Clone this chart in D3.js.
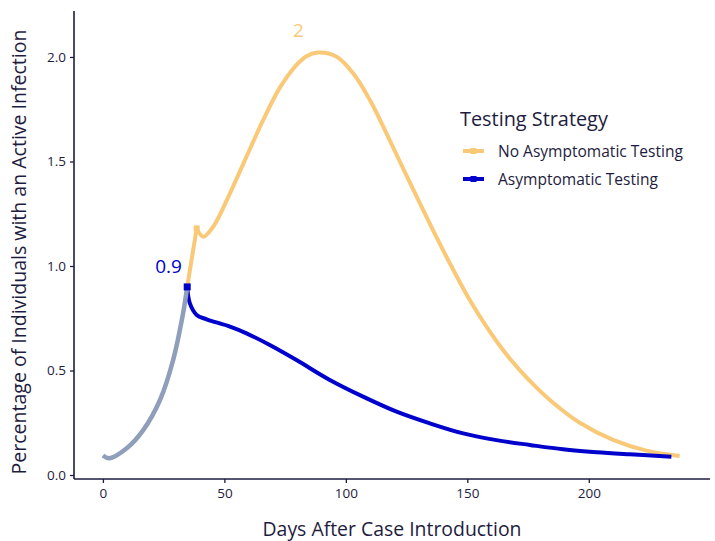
<!DOCTYPE html>
<html><head><meta charset="utf-8">
<script src="https://cdn.jsdelivr.net/npm/d3@7"></script>
<style>
html,body{margin:0;padding:0;background:#fff;}
svg{display:block;font-family:"Open Sans", Lato, sans-serif;}
</style></head>
<body><svg id="c" width="715" height="541"></svg>
<script>
// ---- data (days, percentage) ----
const grayDays = [0, 2.6, 9.8, 16.6, 23.5, 28.9, 33.0, 34.7];
const grayVals = [0.093, 0.080, 0.128, 0.215, 0.359, 0.550, 0.774, 0.900];

const noTestDays = [34.7, 38.6, 41.3, 45.4, 52.3, 59.1, 66.0, 72.8, 79.7, 83.8, 88.6, 96.2, 103.0, 109.9, 116.7, 123.6, 130.5, 137.3, 144.2, 151.0, 157.9, 164.7, 171.6, 178.5, 185.3, 196.3, 210.0, 223.7, 237.4];
const noTestVals = [0.900, 1.180, 1.140, 1.188, 1.348, 1.523, 1.699, 1.852, 1.962, 2.004, 2.021, 2.001, 1.922, 1.794, 1.635, 1.466, 1.300, 1.138, 0.982, 0.837, 0.710, 0.598, 0.502, 0.418, 0.346, 0.250, 0.168, 0.117, 0.091];

const testDays = [34.7, 35.8, 38.6, 42.7, 52.3, 59.1, 68.7, 79.7, 93.4, 107.1, 120.9, 134.6, 148.3, 162.0, 175.7, 189.4, 203.2, 216.9, 234.0];
const testVals = [0.900, 0.821, 0.766, 0.745, 0.710, 0.678, 0.622, 0.550, 0.455, 0.375, 0.303, 0.247, 0.199, 0.167, 0.144, 0.123, 0.109, 0.099, 0.088];

const xTicks = [0, 50, 100, 150, 200];
const yTicks = [0.0, 0.5, 1.0, 1.5, 2.0];
const seriesNames = ["No Asymptomatic Testing", "Asymptomatic Testing"];
const seriesColors = ["#f9c978", "#0000cc"];
const grayColor = "#8e9ebb";
const labelPeak = {day: 80.5, val: 2.12, text: "2"};
const labelTest = {day: 27, val: 0.99, text: "0.9"};

// ---- layout ----
const svg = d3.select("#c");
const ink = "#1e1c40";
const x = d3.scaleLinear().domain([-11.9, 249.9]).range([74, 710]);
const y = d3.scaleLinear().domain([-0.019, 2.22]).range([479, 11]);

const zip = (a, b) => a.map((d, i) => [d, b[i]]);
const gray = zip(grayDays, grayVals);
const noTest = zip(noTestDays, noTestVals);
const test = zip(testDays, testVals);

const smooth = d3.line().x(d => x(d[0])).y(d => y(d[1])).curve(d3.curveCatmullRom.alpha(0.5));
const straight = d3.line().x(d => x(d[0])).y(d => y(d[1]));

// fit a text element's font-size to a target width
function fit(sel, target, base) {
  sel.style("font-size", base + "px");
  const w = sel.node().getComputedTextLength();
  if (w > 0) sel.style("font-size", (base * target / w).toFixed(2) + "px");
  return sel;
}

// axes
const xAxis = svg.append("g").attr("transform", "translate(0,479)")
  .call(d3.axisBottom(x).tickValues(xTicks).tickSize(4).tickPadding(5).tickFormat(d3.format("d")));
const yAxis = svg.append("g").attr("transform", "translate(74,0)")
  .call(d3.axisLeft(y).tickValues(yTicks).tickSize(4).tickPadding(4).tickFormat(d3.format(".1f")));
[xAxis, yAxis].forEach(g => {
  g.select(".domain").attr("stroke", ink).attr("stroke-width", 1.6);
  g.selectAll(".tick line").attr("stroke", ink).attr("stroke-width", 1.3);
  g.selectAll(".tick text").attr("fill", ink).style("font-size", "13.5px")
    .style("font-family", "'Open Sans', sans-serif");
});
xAxis.select(".domain").attr("d", "M74,0H710");
yAxis.select(".domain").attr("d", "M0,11V479");

// lines
svg.append("path").attr("d", straight(noTest.slice(0, 2))).attr("fill", "none")
  .attr("stroke", seriesColors[0]).attr("stroke-width", 4);
svg.append("path").attr("d", smooth(noTest.slice(1))).attr("fill", "none")
  .attr("stroke", seriesColors[0]).attr("stroke-width", 4).attr("stroke-linejoin", "round");
svg.append("path").attr("d", smooth(test)).attr("fill", "none")
  .attr("stroke", seriesColors[1]).attr("stroke-width", 4);
svg.append("path").attr("d", smooth(gray)).attr("fill", "none")
  .attr("stroke", grayColor).attr("stroke-width", 4.5);

// markers
svg.append("rect").attr("x", x(noTest[1][0]) - 3).attr("y", y(noTest[1][1]) - 3)
  .attr("width", 6).attr("height", 6).attr("fill", seriesColors[0]);
svg.append("rect").attr("x", x(test[0][0]) - 3.5).attr("y", y(test[0][1]) - 3.5)
  .attr("width", 7).attr("height", 7).attr("fill", seriesColors[1]);

// value labels
svg.append("text").attr("x", x(labelPeak.day)).attr("y", y(labelPeak.val))
  .attr("text-anchor", "middle").attr("dominant-baseline", "middle")
  .attr("fill", seriesColors[0]).style("font-size", "19px").text(labelPeak.text);
svg.append("text").attr("x", x(labelTest.day)).attr("y", y(labelTest.val))
  .attr("text-anchor", "middle").attr("dominant-baseline", "middle")
  .attr("fill", seriesColors[1]).style("font-size", "19px").text(labelTest.text);

// axis titles
fit(svg.append("text").attr("x", 392).attr("y", 536).attr("text-anchor", "middle")
  .attr("fill", ink).text("Days After Case Introduction"), 259, 18);
fit(svg.append("text").attr("transform", "translate(26,252) rotate(-90)").attr("text-anchor", "middle")
  .attr("fill", ink).text("Percentage of Individuals with an Active Infection"), 445, 17);

// legend
const lg = svg.append("g").attr("transform", "translate(460,0)");
fit(lg.append("text").attr("x", 0).attr("y", 126).attr("fill", ink)
  .text("Testing Strategy"), 148, 17);
seriesNames.forEach((name, i) => {
  const cy = 151 + i * 28;
  lg.append("line").attr("x1", 3).attr("x2", 24).attr("y1", cy).attr("y2", cy)
    .attr("stroke", seriesColors[i]).attr("stroke-width", 4);
  lg.append("rect").attr("x", 10.5).attr("y", cy - 3).attr("width", 6).attr("height", 6)
    .attr("fill", seriesColors[i]);
  fit(lg.append("text").attr("x", 38).attr("y", cy).attr("dominant-baseline", "central")
    .attr("fill", ink).text(name), i === 0 ? 185 : 160, 14);
});
</script></body></html>
